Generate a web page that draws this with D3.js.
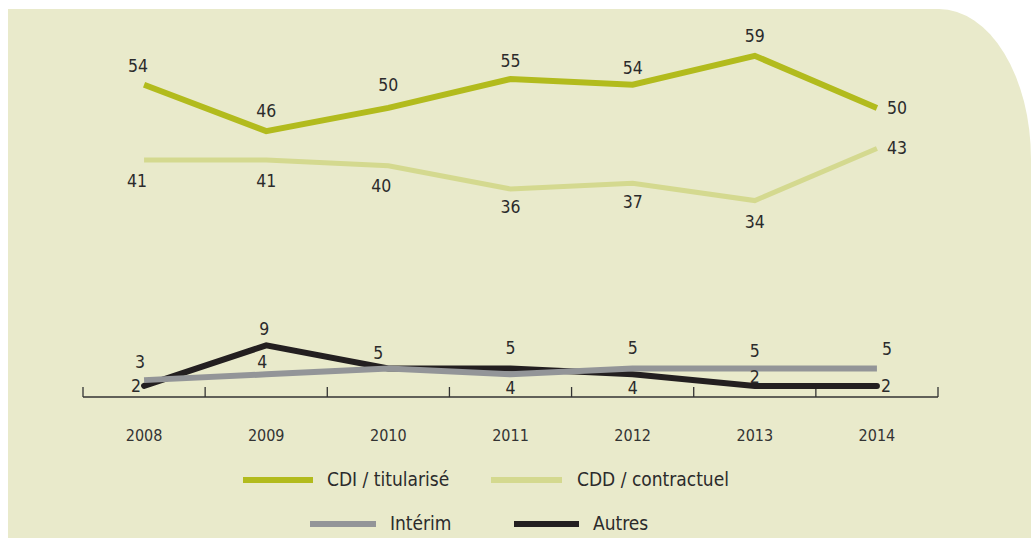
<!DOCTYPE html>
<html><head><meta charset="utf-8">
<script src="https://cdn.jsdelivr.net/npm/d3@7"></script>
<style>
html,body{margin:0;padding:0;background:#fff;}
svg{display:block;font-family:"DejaVu Sans Condensed","DejaVu Sans",sans-serif;}
</style></head>
<body>
<svg id="chart" width="1031" height="538"></svg>
<script>
const years = ["2008","2009","2010","2011","2012","2013","2014"];
const cdi = [54, 46, 50, 55, 54, 59, 50];
const cdd = [41, 41, 40, 36, 37, 34, 43];
const interim = [3, 4, 5, 4, 5, 5, 5];
const autres = [2, 9, 5, 5, 4, 2, 2];
const seriesNames = ["CDI / titularisé", "CDD / contractuel", "Intérim", "Autres"];
const seriesColors = ["#b2bb1d", "#d4d98f", "#939598", "#231f20"];

// label placements (dx, dy from point, anchor) per series & year
const labelPlace = {
  cdi: [[-6,-13,"middle"],[0,-14,"middle"],[0,-17,"middle"],[0,-12,"middle"],[0,-11,"middle"],[0,-14,"middle"],[10,6,"start"]],
  cdd: [[-7,27,"middle"],[0,27,"middle"],[-7,26,"middle"],[0,24,"middle"],[0,25,"middle"],[0,27,"middle"],[10,6,"start"]],
  interim: [[-4,-12,"middle"],[-4,-6,"middle"],[null],[0,20,"middle"],[0,-15,"middle"],[0,-12,"middle"],[10,-14,"middle"]],
  autres: [[-3,6,"end"],[-2,-10,"middle"],[-10,-10,"middle"],[0,-15,"middle"],[0,20,"middle"],[0,-3,"middle"],[4,6,"start"]]
};

const svg = d3.select("#chart");

// background panel with rounded top-right corner
const L = 8, T = 9, R = 1031, B = 538, rx = 92, ry = 150;
svg.append("path")
  .attr("d", `M${L},${T} H${R-rx} A${rx},${ry} 0 0 1 ${R},${T+ry} V${B} H${L} Z`)
  .attr("fill", "#e9eacb");

const x = d3.scaleBand().domain(years).range([83, 938]).padding(0);
const y = d3.scaleLinear().domain([0, 60]).range([397.5, 50]);
const cx = d => x(d) + x.bandwidth()/2;

// axis
const axisY = 397;
const g = svg.append("g");
g.append("line").attr("x1", 83).attr("x2", 938).attr("y1", axisY).attr("y2", axisY)
  .attr("stroke", "#333").attr("stroke-width", 1.3);
const edges = years.map(d => x(d)).concat([x(years[years.length-1]) + x.bandwidth()]);
g.selectAll(".tick").data(edges).enter().append("line")
  .attr("x1", d => d).attr("x2", d => d).attr("y1", axisY).attr("y2", axisY - 10)
  .attr("stroke", "#333").attr("stroke-width", 1.3);
g.selectAll(".yl").data(years).enter().append("text")
  .attr("x", d => cx(d)).attr("y", 441).attr("text-anchor", "middle")
  .attr("font-size", 16).attr("fill", "#333").text(d => d);

const line = d3.line().x((d,i) => cx(years[i])).y(d => y(d));

const series = [
  {key:"cdi", vals:cdi, color:seriesColors[0], w:6, cap:"butt"},
  {key:"cdd", vals:cdd, color:seriesColors[1], w:5, cap:"butt"},
  {key:"interim", vals:interim, color:seriesColors[2], w:6, cap:"butt"},
  {key:"autres", vals:autres, color:seriesColors[3], w:6, cap:"round"}
];

// draw order: CDD, CDI, Autres, Interim
[series[1], series[0], series[3], series[2]].forEach(s => {
  svg.append("path").datum(s.vals).attr("d", line)
    .attr("fill", "none").attr("stroke", s.color).attr("stroke-width", s.w)
    .attr("stroke-linecap", s.cap).attr("stroke-linejoin", "miter");
});

series.forEach(s => {
  s.vals.forEach((v, i) => {
    const p = labelPlace[s.key][i];
    if (p[0] === null) return;
    svg.append("text")
      .attr("x", cx(years[i]) + p[0]).attr("y", y(v) + p[1])
      .attr("text-anchor", p[2]).attr("font-size", 17.5).attr("fill", "#2b2b2b")
      .text(v);
  });
});

// legend
const legend = [
  {name:seriesNames[0], color:seriesColors[0], x1:243, x2:313, tx:327, ly:480, ty:486},
  {name:seriesNames[1], color:seriesColors[1], x1:491, x2:562, tx:577, ly:480, ty:486},
  {name:seriesNames[2], color:seriesColors[2], x1:310, x2:376, tx:390, ly:524, ty:530},
  {name:seriesNames[3], color:seriesColors[3], x1:514, x2:579, tx:593, ly:524, ty:530}
];
const lg = svg.append("g");
legend.forEach(d => {
  lg.append("line").attr("x1", d.x1).attr("x2", d.x2).attr("y1", d.ly).attr("y2", d.ly)
    .attr("stroke", d.color).attr("stroke-width", 6);
  lg.append("text").attr("x", d.tx).attr("y", d.ty).attr("font-size", 19)
    .attr("fill", "#2b2b2b").text(d.name);
});
</script>
</body></html>
